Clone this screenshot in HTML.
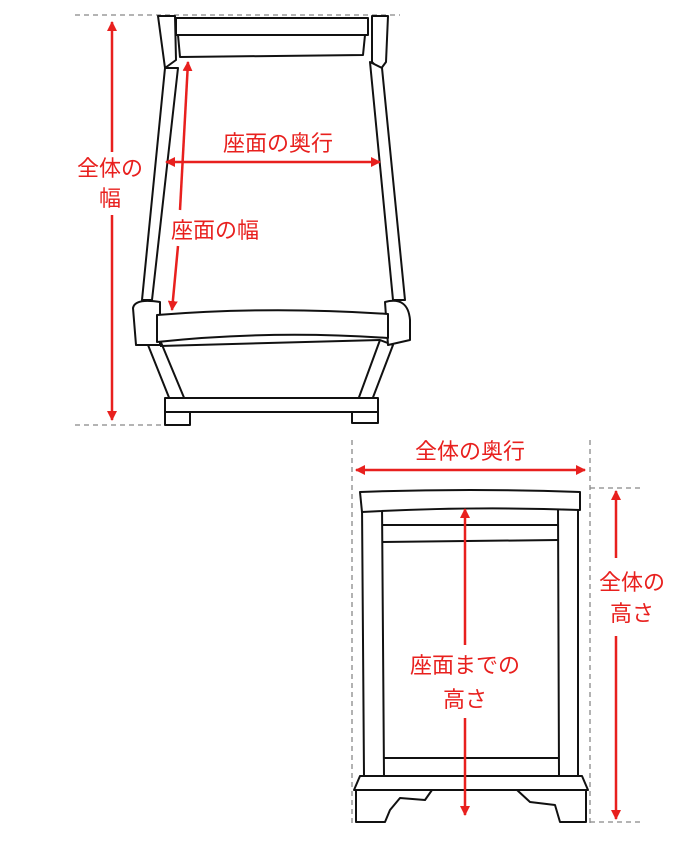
<!DOCTYPE html>
<html><head><meta charset="utf-8"><style>
body{margin:0;background:#fff}
text{font-family:"Liberation Sans","Noto Sans CJK JP",sans-serif;font-size:22px;fill:#e8201e}
</style></head><body>
<svg width="690" height="863" viewBox="0 0 690 863" xmlns="http://www.w3.org/2000/svg">
<defs>
<marker id="a" markerWidth="10" markerHeight="10" refX="9" refY="5" orient="auto-start-reverse" markerUnits="userSpaceOnUse"><path d="M0,0 L10,5 L0,10 z" fill="#e8201e"/></marker>
</defs>
<g stroke="#888" stroke-width="1.3" stroke-dasharray="5,4" fill="none">
<line x1="75" y1="15" x2="400" y2="15"/>
<line x1="75" y1="425" x2="165" y2="425"/>
<line x1="352" y1="440" x2="352" y2="825"/>
<line x1="590" y1="440" x2="590" y2="825"/>
<line x1="590" y1="488" x2="640" y2="488"/>
<line x1="590" y1="822" x2="640" y2="822"/>
</g>
<g stroke="#111" stroke-width="2" fill="#fff" stroke-linejoin="round">
<path d="M158,16 L175,16 L176,60 L165,68 Z"/>
<path d="M372,16 L388,16 L386,62 L380,70 L372,62 Z"/>
<path d="M178,68 L165,68 L142,300 L152,300 Z"/>
<path d="M370,62 L382,68 L405,300 L393,300 Z"/>
<path d="M176,18 L368,18 L368,35 L176,35 Z"/>
<path d="M178,35 L365,35 L363,55 L180,57 Z"/>
<path d="M148,345 L170,400 L185,400 L160,340 Z"/>
<path d="M380,340 L358,400 L372,400 L393,345 Z"/>
<path d="M160,346 L380,340"/>
<path d="M165,398 L378,398 L378,412 L165,412 Z"/>
<path d="M165,412 L190,412 L190,425 L165,425 Z"/>
<path d="M352,412 L378,412 L378,423 L352,423 Z"/>
<path d="M133,308 Q135,298 160,302 L160,345 L136,345 Z"/>
<path d="M385,302 Q408,296 410,320 L410,340 L388,345 Z"/>
<path d="M157,315 Q270,306 388,314 L388,338 Q270,330 157,342 Z"/>
</g>
<g stroke="#111" stroke-width="2" fill="#fff" stroke-linejoin="round">
<path d="M362,505 L382,505 L384,776 L364,776 Z"/>
<path d="M558,505 L578,505 L578,776 L559,776 Z"/>
<path d="M360,492 Q470,488 580,492 L580,510 Q470,506 362,512 Z"/>
<line x1="382" y1="525" x2="558" y2="525"/>
<line x1="382" y1="542" x2="558" y2="540"/>
<line x1="383" y1="758" x2="558" y2="758"/>
<path d="M360,776 L582,776 L588,790 L354,790 Z"/>
<path d="M356,790 L432,790 L425,800 L400,798 L390,810 L385,822 L356,822 Z"/>
<path d="M517,790 L586,790 L586,822 L560,822 L555,805 L530,802 Z"/>
</g>
<g stroke="#e8201e" stroke-width="2.5" fill="none">
<line x1="112" y1="22" x2="112" y2="152" marker-start="url(#a)"/>
<line x1="112" y1="215" x2="112" y2="420" marker-end="url(#a)"/>
<line x1="166" y1="162" x2="380" y2="162" marker-start="url(#a)" marker-end="url(#a)"/>
<line x1="188" y1="62" x2="180" y2="210" marker-start="url(#a)"/>
<line x1="178" y1="246" x2="172" y2="310" marker-end="url(#a)"/>
<line x1="356" y1="470" x2="585" y2="470" marker-start="url(#a)" marker-end="url(#a)"/>
<line x1="616" y1="491" x2="616" y2="558" marker-start="url(#a)"/>
<line x1="616" y1="636" x2="616" y2="819" marker-end="url(#a)"/>
<line x1="465" y1="509" x2="465" y2="645" marker-start="url(#a)"/>
<line x1="465" y1="718" x2="465" y2="815" marker-end="url(#a)"/>
</g>
<text x="110" y="176" text-anchor="middle">全体の</text>
<text x="110" y="206" text-anchor="middle">幅</text>
<text x="278" y="151" text-anchor="middle">座面の奥行</text>
<text x="215" y="238" text-anchor="middle">座面の幅</text>
<text x="470" y="459" text-anchor="middle">全体の奥行</text>
<text x="632" y="590" text-anchor="middle">全体の</text>
<text x="632" y="621" text-anchor="middle">高さ</text>
<text x="465" y="673" text-anchor="middle">座面までの</text>
<text x="465" y="707" text-anchor="middle">高さ</text>
</svg>
</body></html>
